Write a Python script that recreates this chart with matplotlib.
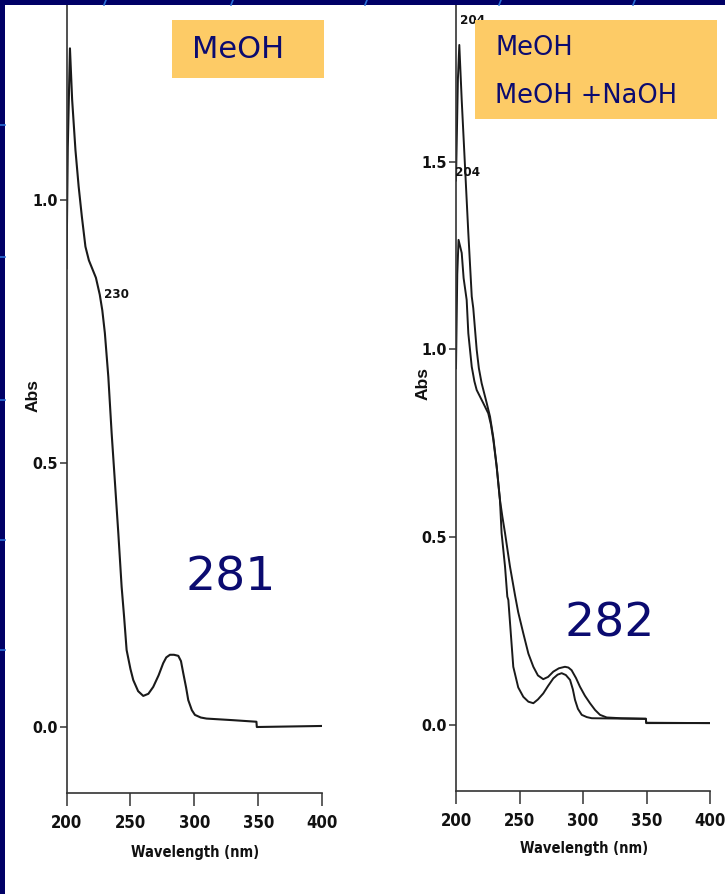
import matplotlib
matplotlib.use("Agg")
import matplotlib.pyplot as plt
from matplotlib import font_manager as fm
from matplotlib.patches import Rectangle
from matplotlib.lines import Line2D

# ---------------- data ----------------
xticks = [200, 250, 300, 350, 400]
left_yticks = [0.0, 0.5, 1.0]
right_yticks = [0.0, 0.5, 1.0, 1.5]

# left panel: MeOH
wl_left = [200, 201, 202.7, 204.4, 207, 209.5, 212, 214.8, 217.5, 220, 223, 226, 228,
           230, 232.7, 235.3, 237.9, 240.5, 243.1, 245, 247, 250, 252.2, 256, 260,
           264, 267.8, 272, 275.6, 278, 280.9, 284, 287.4, 289.5, 291.3, 293.5, 295.2,
           298, 300.4, 305, 309.5, 330, 348.5, 348.8, 400]
abs_left = [0.87, 1.10, 1.287, 1.19, 1.094, 1.025, 0.968, 0.911, 0.885, 0.87, 0.852, 0.82, 0.79,
            0.747, 0.664, 0.557, 0.463, 0.368, 0.266, 0.21, 0.146, 0.11, 0.089, 0.068, 0.059,
            0.063, 0.076, 0.098, 0.121, 0.132, 0.137, 0.137, 0.135, 0.125, 0.102, 0.075, 0.051,
            0.032, 0.023, 0.018, 0.016, 0.013, 0.010, 0.0, 0.002]

# right panel: MeOH
wl_r_meoh = [200, 201, 202, 204.5, 206, 208.4, 209.7, 212.4, 214.5, 216.3, 221.5, 225.4, 227.5,
             229.4, 232, 234.6, 235.9, 238.6, 240.4, 241.2, 245.1, 249, 253, 257, 260.9,
             264.5, 268.7, 272.5, 276.6, 280, 283.2, 286.5, 289.8, 292, 293.7, 296, 299,
             303, 306.9, 330, 349.5, 349.8, 400]
abs_r_meoh = [0.95, 1.20, 1.292, 1.257, 1.19, 1.132, 1.043, 0.954, 0.915, 0.892, 0.857, 0.83, 0.80,
              0.759, 0.688, 0.599, 0.511, 0.422, 0.342, 0.333, 0.155, 0.10, 0.075, 0.062, 0.058,
              0.068, 0.084, 0.104, 0.124, 0.134, 0.138, 0.133, 0.12, 0.095, 0.067, 0.043, 0.027,
              0.021, 0.018, 0.017, 0.016, 0.005, 0.005]

# right panel: MeOH + NaOH
wl_r_naoh = [200, 201.5, 202.6, 204.5, 207.1, 209.7, 212.4, 213.6, 216.3, 218, 220.2, 224.2,
             226.8, 229.4, 232, 234.6, 236.5, 238.6, 242.5, 246.5, 249, 251, 253, 257, 260.9,
             264.5, 268.7, 272.5, 276.6, 281, 285.8, 288.5, 291, 294.5, 297.6, 301.5, 305.5,
             309.5, 313.4, 318.7, 330, 349.5, 349.8, 400]
abs_r_naoh = [1.45, 1.72, 1.811, 1.664, 1.487, 1.31, 1.141, 1.11, 0.999, 0.95, 0.91, 0.857,
              0.821, 0.765, 0.69, 0.60, 0.555, 0.511, 0.422, 0.345, 0.30, 0.272, 0.244, 0.19, 0.155,
              0.132, 0.122, 0.128, 0.142, 0.151, 0.155, 0.153, 0.146, 0.125, 0.102, 0.078, 0.058,
              0.040, 0.027, 0.020, 0.018, 0.017, 0.006, 0.005]

left_box_labels = ["MeOH"]
right_box_labels = ["MeOH", "MeOH +NaOH"]
left_peak_label = "281"
right_peak_label = "282"
left_annot = "230"
right_annots = ["204", "204"]
xlabel_text = "Wavelength (nm)"
ylabel_text = "Abs"

# ---------------- fonts ----------------
FP = fm.FontProperties


def find_narrow_bold():
    for f in fm.fontManager.ttflist:
        nm = (f.name + " " + f.fname).lower()
        narrowish = ("narrow" in nm or "condensed" in nm or
                     f.stretch in ("condensed", "semi-condensed", "extra-condensed"))
        boldish = f.weight in (600, 700, 800, "bold", "semibold", "demibold") or "bold" in nm
        if narrowish and boldish and "oblique" not in nm and "italic" not in nm \
                and "mono" not in nm and "serif" not in f.name.lower():
            return f.fname
    return None


narrow_path = find_narrow_bold()
if narrow_path:
    def tick_fp(size):
        return FP(fname=narrow_path, size=size)
    XT, YT, XL, AN = 12, 11.5, 10.5, 9.5
else:
    def tick_fp(size):
        return FP(family=["Liberation Sans", "DejaVu Sans"], weight="bold", size=size)
    XT, YT, XL, AN = 11, 11, 10, 8.5

W, H = 725, 894
fig = plt.figure(figsize=(W / 100, H / 100), dpi=100)
fig.patch.set_facecolor("white")

NAVY = "#000066"
TXT = "#0b0b70"
BOX = "#fdcb66"
LINE = "#1a1a1a"
DARK = "#111111"


def fx(px):
    return px / W


def fy(py):
    return 1 - py / H


def make_axes(x0, x1, ybot, ytop_px, ylim, yticks):
    ax = fig.add_axes([fx(x0), fy(ybot), fx(x1) - fx(x0), fy(ytop_px) - fy(ybot)])
    ax.set_xlim(200, 400)
    ax.set_ylim(*ylim)
    for s in ["top", "right"]:
        ax.spines[s].set_visible(False)
    for s in ["left", "bottom"]:
        ax.spines[s].set_color("#333333")
        ax.spines[s].set_linewidth(1.2)
    ax.set_xticks(xticks)
    ax.set_xticklabels([str(t) for t in xticks], fontproperties=tick_fp(XT), color=DARK)
    ax.set_yticks(yticks)
    ax.set_yticklabels([f"{t:.1f}" for t in yticks], fontproperties=tick_fp(YT), color=DARK)
    ax.tick_params(axis="x", length=9, width=1.1, pad=6, color="#333333")
    ax.tick_params(axis="y", length=5, width=1.1, pad=1.5, color="#333333")
    ax.set_facecolor("none")
    return ax


# left axes
axL = make_axes(66.5, 322.3, 793.3, 5, (-0.1257, 1.3692), left_yticks)
axL.plot(wl_left, abs_left, color=LINE, lw=1.5)
axL.text(229.5, 0.82, left_annot, fontproperties=tick_fp(AN), color=DARK,
         va="center", ha="left")

# right axes
axR = make_axes(456, 710, 791, 5, (-0.1758, 1.9174), right_yticks)
axR.plot(wl_r_meoh, abs_r_meoh, color=LINE, lw=1.4)
axR.plot(wl_r_naoh, abs_r_naoh, color=LINE, lw=1.4)
axR.text(203.2, 1.875, right_annots[0], fontproperties=tick_fp(AN), color=DARK,
         va="center", ha="left")
axR.text(199.5, 1.47, right_annots[1], fontproperties=tick_fp(AN), color=DARK,
         va="center", ha="left")

# axis titles
fig.text(fx(195), fy(852), xlabel_text, fontproperties=tick_fp(XL), color=DARK,
         ha="center", va="center")
fig.text(fx(584), fy(848), xlabel_text, fontproperties=tick_fp(XL), color=DARK,
         ha="center", va="center")
fig.text(fx(33), fy(395), ylabel_text, rotation=90, family=["Liberation Sans", "DejaVu Sans"],
         weight="bold", fontsize=12.5, color=DARK, ha="center", va="center")
fig.text(fx(423), fy(383), ylabel_text, rotation=90, family=["Liberation Sans", "DejaVu Sans"],
         weight="bold", fontsize=12.5, color=DARK, ha="center", va="center")

# peak labels
fig.text(fx(231), fy(578), left_peak_label, fontsize=34, color=TXT,
         family="DejaVu Sans", ha="center", va="center")
fig.text(fx(610), fy(624), right_peak_label, fontsize=34, color=TXT,
         family="DejaVu Sans", ha="center", va="center")

# orange label boxes
fig.patches.append(Rectangle((fx(172), fy(78)), fx(324) - fx(172), fy(20) - fy(78),
                             transform=fig.transFigure, facecolor=BOX, edgecolor="none",
                             zorder=5))
fig.text(fx(192), fy(49), left_box_labels[0], fontsize=22, color=TXT,
         family="DejaVu Sans", ha="left", va="center", zorder=6)
fig.patches.append(Rectangle((fx(475), fy(119)), fx(717) - fx(475), fy(20) - fy(119),
                             transform=fig.transFigure, facecolor=BOX, edgecolor="none",
                             zorder=5))
for lab, yy in zip(right_box_labels, [48, 96]):
    fig.text(fx(495), fy(yy), lab, fontsize=18.5, color=TXT,
             family="DejaVu Sans", ha="left", va="center", zorder=6)

# navy frame (top band and left strip)
fig.patches.append(Rectangle((0, fy(5)), 1, fy(0) - fy(5), transform=fig.transFigure,
                             facecolor=NAVY, edgecolor="none", zorder=10))
fig.patches.append(Rectangle((0, 0), fx(4.5), 1, transform=fig.transFigure,
                             facecolor=NAVY, edgecolor="none", zorder=10))
for xs in [104, 231, 365, 499, 633]:
    fig.lines.append(Line2D([fx(xs), fx(xs + 2)], [fy(5), fy(0)], transform=fig.transFigure,
                            color="#2a6fd6", lw=1.2, zorder=11))
for ys in [125, 257, 400, 540, 650]:
    fig.lines.append(Line2D([0, fx(4.5)], [fy(ys), fy(ys)], transform=fig.transFigure,
                            color="#2a6fd6", lw=1.2, zorder=11))

fig.savefig("out.png", dpi=100, facecolor="white")
